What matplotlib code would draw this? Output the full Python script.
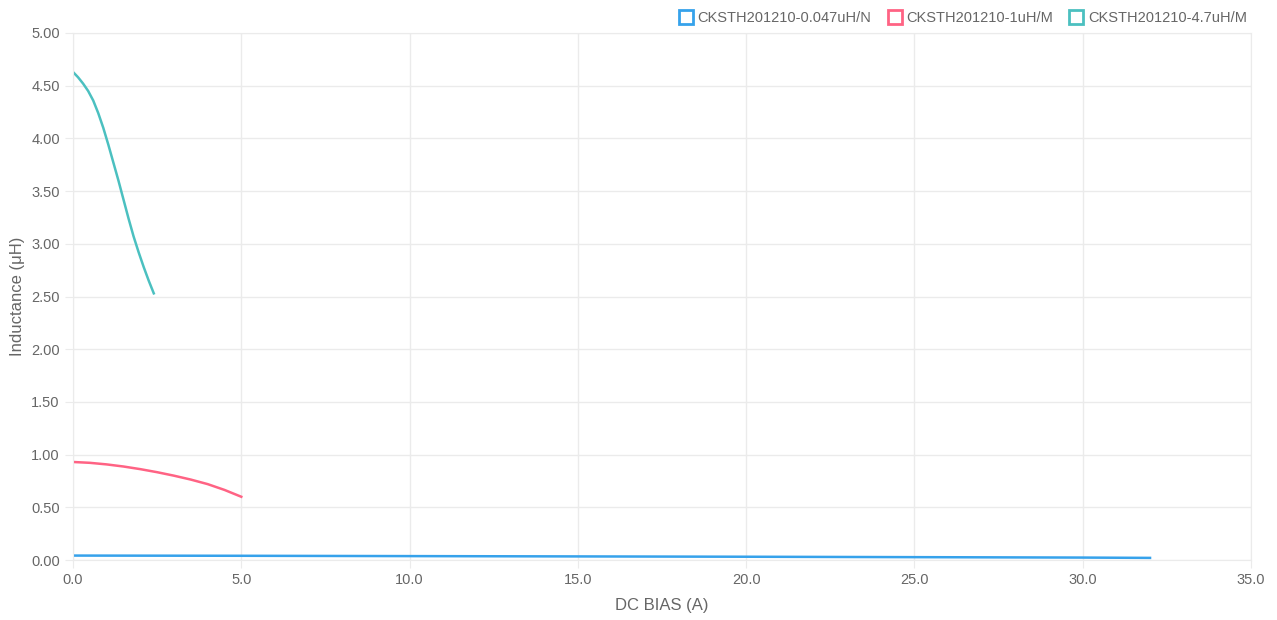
import matplotlib
matplotlib.use("Agg")
import matplotlib.pyplot as plt
from matplotlib.lines import Line2D
from matplotlib.ticker import FormatStrFormatter, MultipleLocator

plt.rcParams['font.family'] = ['Liberation Sans', 'DejaVu Sans']

series_names = ["CKSTH201210-0.047uH/N", "CKSTH201210-1uH/M", "CKSTH201210-4.7uH/M"]
colors = ["#36a2eb", "#ff6384", "#4bc0c0"]

x_a = [0, 5, 10, 15, 20, 25, 30, 32]
y_a = [0.042, 0.040, 0.037, 0.034, 0.031, 0.027, 0.023, 0.020]

x_b = [0, 0.5, 1.0, 1.5, 2.0, 2.5, 3.0, 3.5, 4.0, 4.5, 5.0]
y_b = [0.93, 0.922, 0.907, 0.887, 0.862, 0.833, 0.80, 0.763, 0.72, 0.665, 0.60]

x_c = [0, 0.15, 0.3, 0.45, 0.6, 0.75, 0.9, 1.05, 1.2, 1.35, 1.5, 1.65, 1.8, 1.95, 2.1, 2.25, 2.4]
y_c = [4.63, 4.58, 4.52, 4.45, 4.36, 4.24, 4.10, 3.94, 3.77, 3.60, 3.42, 3.24, 3.07, 2.92, 2.78, 2.65, 2.53]

W, H = 1277, 620
fig = plt.figure(figsize=(W / 100, H / 100), dpi=100)
ax = fig.add_axes([73 / W, (H - 560) / H, (1251 - 73) / W, (560 - 33) / H])

ax.plot(x_a, y_a, color=colors[0], lw=1.8)
ax.plot(x_b, y_b, color=colors[1], lw=1.8)
ax.plot(x_c, y_c, color=colors[2], lw=1.8)

ax.set_xlim(0, 35)
ax.set_ylim(0, 5)
ax.xaxis.set_major_locator(MultipleLocator(5))
ax.yaxis.set_major_locator(MultipleLocator(0.5))
ax.xaxis.set_major_formatter(FormatStrFormatter('%.1f'))
ax.yaxis.set_major_formatter(FormatStrFormatter('%.2f'))
ax.grid(True, color="#ebebeb", lw=1)
ax.set_axisbelow(True)
for s in ax.spines.values():
    s.set_color("#ebebeb")
ax.tick_params(colors="#ebebeb", labelcolor="#666666", labelsize=10.5, length=6)
ax.set_xlabel("DC BIAS (A)", color="#666666", fontsize=12, labelpad=8)
ax.set_ylabel("Inductance (μH)", color="#666666", fontsize=12, labelpad=4)

handles = [Line2D([], [], marker='s', ls='none', markersize=10, markerfacecolor='white',
                  markeredgecolor=c, markeredgewidth=2) for c in colors]
fig.legend(handles, series_names, loc='upper right', bbox_to_anchor=(1258 / W, 1.0),
           ncol=3, frameon=False, fontsize=10.5, labelcolor="#666666",
           handletextpad=0.3, columnspacing=1.1, borderaxespad=0.35, handlelength=1.0)

fig.savefig("out.png", dpi=100, facecolor="white")
